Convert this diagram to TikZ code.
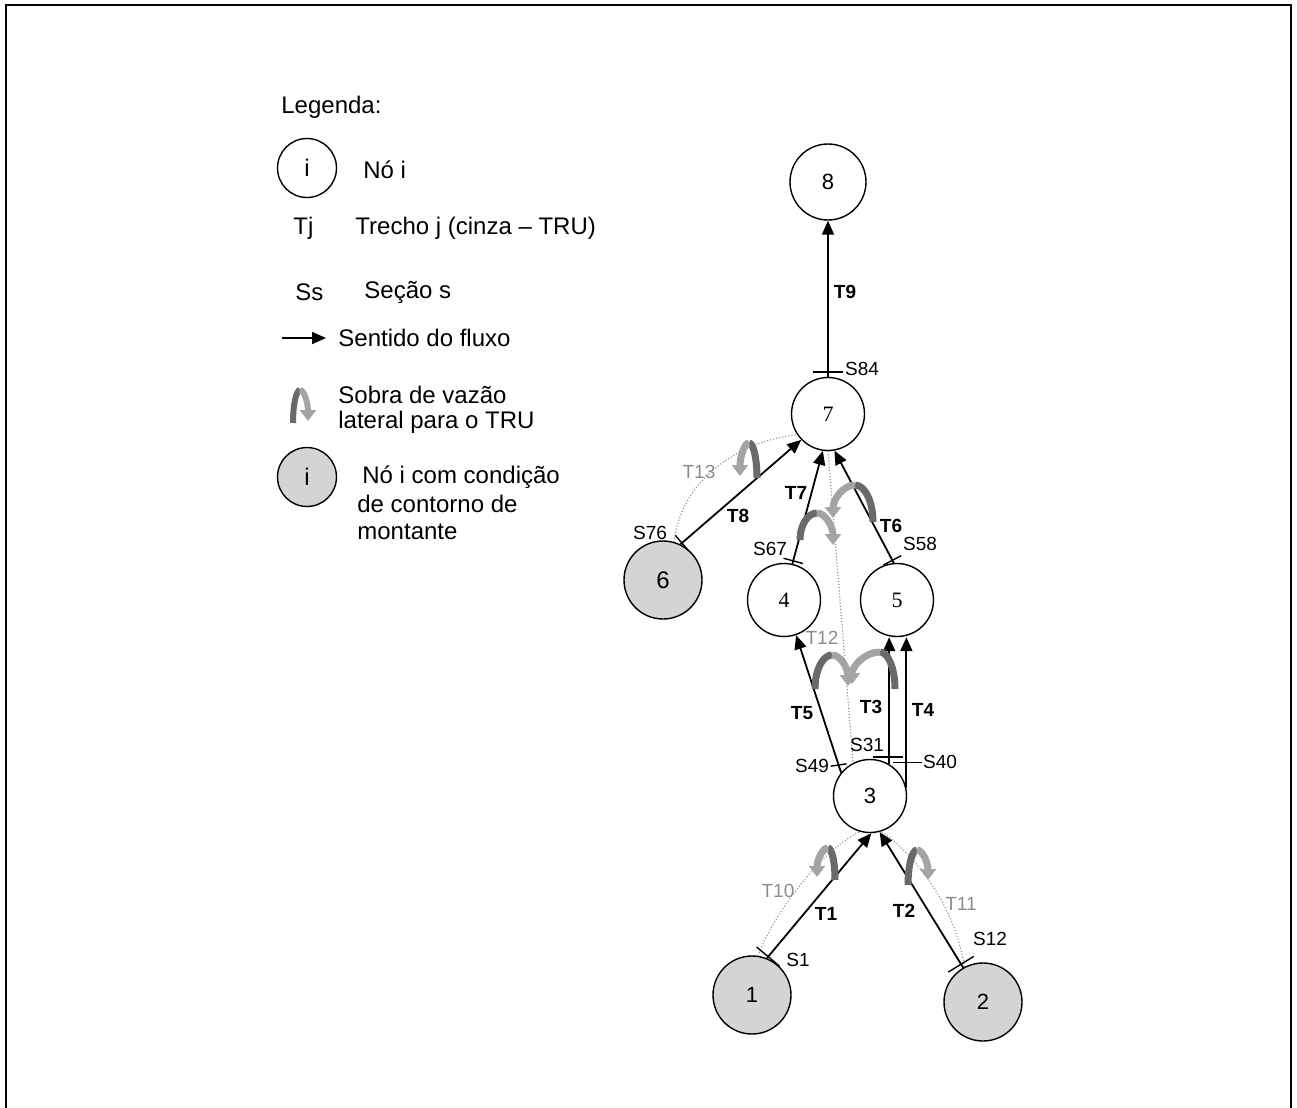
\documentclass[tikz,border=0pt]{standalone}
\usepackage{fontspec}
\setmainfont{Liberation Sans}
\newfontfamily\serifnum{Liberation Serif}
\usetikzlibrary{arrows.meta,calc}
\definecolor{bcgray}{HTML}{D4D4D4}
\definecolor{trugray}{HTML}{8C8C8C}
\definecolor{curldark}{HTML}{6A6A6A}
\definecolor{curllight}{HTML}{A4A4A4}
\newcommand\sobra[4][3.5pt]{%
  \coordinate (#2k) at (#2|-#3);
  \coordinate (#4k) at (#4|-#3);
  \draw[draw=curldark,line width=#1] (#2) .. controls ($(#2)!0.55!(#2k)$) and ($(#3)!0.55!(#2k)$) .. (#3);
  \draw[draw=curllight,line width=#1,-{Triangle[length=5.5pt,width=8pt]}] (#3) .. controls ($(#3)!0.55!(#4k)$) and ($(#4)!0.55!(#4k)$) .. (#4);
}
\begin{document}
\begin{tikzpicture}[x=0.5pt,y=-0.5pt,
  nd/.style={circle,draw,line width=0.7pt,minimum size=36.5pt,inner sep=0pt,font=\fontsize{11}{12}\selectfont},
  bnd/.style={nd,fill=bcgray,minimum size=39pt},
  lgc/.style={circle,draw,line width=0.7pt,minimum size=29.5pt,inner sep=0pt,font=\fontsize{12}{14}\selectfont},
  flow/.style={line width=0.9pt,-{Triangle[length=7pt,width=6pt]}},
  tru/.style={densely dotted,line width=0.55pt,draw=trugray},
  tickline/.style={line width=0.7pt},
  lbl/.style={inner sep=0pt,font=\fontsize{9.5}{11}\selectfont},
  tl/.style={inner sep=0pt,font=\fontsize{9.5}{11}\selectfont\bfseries},
  gl/.style={lbl,text=trugray},
  lg/.style={inner sep=0pt,anchor=west,font=\fontsize{12}{14}\selectfont,align=left}
]
\useasboundingbox (0,0) rectangle (1297,1108);
% frame (open at bottom)
\coordinate (fbl) at (5.5,1110);
\coordinate (ftl) at (5.5,4.5);
\coordinate (ftr) at (1291,4.5);
\coordinate (fbr) at (1291,1110);
\draw[line width=1pt] (fbl) -- (ftl) -- (ftr) -- (fbr);

% ---------- legend ----------
\node[lg] (lgtitle) at (281,107) {Legenda:};
\node[lgc] (lgnode) at (307,168) {i};
\node[lg] (lgnodet) at (363,170) {Nó i};
\node[lg] (lgtj) at (293,228) {Tj};
\node[lg] (lgtjt) at (355,228) {Trecho j (cinza – TRU)};
\node[lg] (lgss) at (295,292) {Ss};
\node[lg] (lgsst) at (364,292) {Seção s};
\coordinate (lga1) at (282,338);
\coordinate (lga2) at (326,338);
\draw[flow] (lga1) -- (lga2);
\node[lg] (lgflow) at (338,338) {Sentido do fluxo};
\coordinate (lcs) at (293,423);
\coordinate (lcp) at (300,390);
\coordinate (lce) at (308,421);
\sobra[3pt]{lcs}{lcp}{lce}
\node[lg] (lgsob1) at (338,395) {Sobra de vazão};
\node[lg] (lgsob2) at (338,422) {lateral para o TRU};
\node[lgc,fill=bcgray] (lgbc) at (307,477) {i};
\node[lg] (lgbc1) at (362,477) {Nó i com condição};
\node[lg] (lgbc2) at (357,504) {de contorno de};
\node[lg] (lgbc3) at (357,532) {montante};

% ---------- nodes ----------
\node[nd,minimum size=38pt] (n8) at (828,182) {8};
\node[nd,font=\serifnum\fontsize{11}{12}\selectfont] (n7) at (828,414) {7};
\node[bnd,font=\fontsize{12}{14}\selectfont] (n6) at (663,580) {6};
\node[nd,font=\serifnum\fontsize{11}{12}\selectfont] (n4) at (784,600) {4};
\node[nd,font=\serifnum\fontsize{11}{12}\selectfont] (n5) at (897,600) {5};
\node[nd] (n3) at (870,796) {3};
\node[bnd] (n1) at (752,995) {1};
\node[bnd] (n2) at (983,1002) {2};

% ---------- TRU dotted reaches ----------
\draw[tru] (n6.74) .. controls (682,475) and (745,440) .. (n7.214);
\draw[tru] (n7.270) -- (n3.117);
\draw[tru] (n1.81) .. controls (770,920) and (820,850) .. (n3.254);
\draw[tru] (n2.118) .. controls (955,905) and (915,855) .. (n3.288);

% ---------- main reaches ----------
\draw[flow] (n7.90) -- (n8.270);
\draw[flow] (n6.64) -- (n7.224);
\draw[flow] (n4.77) -- (n7.262);
\draw[flow] (n5.95) -- (n7.280);
\draw[flow] (n3.141) -- (n4.289);
\draw[flow] (n3.59) -- (n3.59 |- n5.south);
\draw[flow] (n3.12) -- (n3.12 |- n5.south);
\draw[flow] (n1.68) -- (n3.272);
\draw[flow] (n2.120) -- (n3.285);

% ---------- section ticks ----------
\coordinate (s84) at ($(n7.90)!2.5pt!(n8.270)$);
\draw[tickline] ($(s84)!7.5pt!90:(n8.270)$) -- ($(s84)!7.5pt!-90:(n8.270)$);
\coordinate (s76) at ($(n6.64)!1pt!(n7.224)$);
\draw[tickline] ($(s76)!5pt!90:(n7.224)$) -- ($(s76)!5pt!-90:(n7.224)$);
\coordinate (s67) at ($(n4.77)!1.5pt!(n7.262)$);
\draw[tickline] ($(s67)!5pt!90:(n7.262)$) -- ($(s67)!5pt!-90:(n7.262)$);
\coordinate (s58) at ($(n5.95)!1.5pt!(n7.280)$);
\draw[tickline] ($(s58)!5pt!90:(n7.280)$) -- ($(s58)!5pt!-90:(n7.280)$);
\coordinate (s49) at ($(n3.141)!4pt!(n4.289)$);
\draw[tickline] ($(s49)!4pt!80:(n4.289)$) -- ($(s49)!4pt!-100:(n4.289)$);
\coordinate (s31) at ($(n3.59)+(-16,-7)$);
\draw[tickline] (s31) -- ++(30,0);
\coordinate (s40) at ($(n3.12)+(-13,-26)$);
\draw[tickline] (s40) -- ++(29,0);
\coordinate (s1) at ($(n1.68)!1pt!(n3.272)$);
\draw[tickline] ($(s1)!7.5pt!90:(n3.272)$) -- ($(s1)!7.5pt!-90:(n3.272)$);
\coordinate (s12) at ($(n2.120)!2pt!(n3.285)$);
\draw[tickline] ($(s12)!7.5pt!90:(n3.285)$) -- ($(s12)!7.5pt!-90:(n3.285)$);

% ---------- lateral overflow curls ----------
\coordinate (c8s) at (757,478); \coordinate (c8p) at (749,443); \coordinate (c8e) at (740,476);
\sobra{c8s}{c8p}{c8e}
\coordinate (c7s) at (800,540); \coordinate (c7p) at (817,513); \coordinate (c7e) at (833,545);
\sobra{c7s}{c7p}{c7e}
\coordinate (c6s) at (873,522); \coordinate (c6p) at (855,485); \coordinate (c6e) at (833,518);
\sobra{c6s}{c6p}{c6e}
\coordinate (c5s) at (815,689); \coordinate (c5p) at (832,655); \coordinate (c5e) at (848,686);
\sobra{c5s}{c5p}{c5e}
\coordinate (c3s) at (895,689); \coordinate (c3p) at (880,652); \coordinate (c3e) at (852,684);
\sobra{c3s}{c3p}{c3e}
\coordinate (c1s) at (835,880); \coordinate (c1p) at (828,848); \coordinate (c1e) at (817,877);
\sobra{c1s}{c1p}{c1e}
\coordinate (c2s) at (908,885); \coordinate (c2p) at (917,850); \coordinate (c2e) at (928,880);
\sobra{c2s}{c2p}{c2e}

% ---------- labels ----------
\node[tl] (lT9) at (845,292) {T9};
\node[lbl] (lS84) at (862,369) {S84};
\node[lbl] (lS76) at (650,533) {S76};
\node[gl] (lT13) at (699,472) {T13};
\node[tl] (lT8) at (738,516) {T8};
\node[tl] (lT7) at (796,493) {T7};
\node[tl] (lT6) at (891,526) {T6};
\node[lbl] (lS67) at (770,549) {S67};
\node[lbl] (lS58) at (920,544) {S58};
\node[gl] (lT12) at (822,638) {T12};
\node[tl] (lT5) at (802,713) {T5};
\node[tl] (lT3) at (871,707) {T3};
\node[tl] (lT4) at (923,710) {T4};
\node[lbl] (lS31) at (867,745) {S31};
\node[lbl] (lS49) at (812,766) {S49};
\node[lbl] (lS40) at (940,762) {S40};
\node[gl] (lT10) at (778,891) {T10};
\node[tl] (lT1) at (826,914) {T1};
\node[tl] (lT2) at (904,911) {T2};
\node[gl] (lT11) at (961,904) {T11};
\node[lbl] (lS12) at (990,939) {S12};
\node[lbl] (lS1) at (798,960) {S1};
\end{tikzpicture}
\end{document}
